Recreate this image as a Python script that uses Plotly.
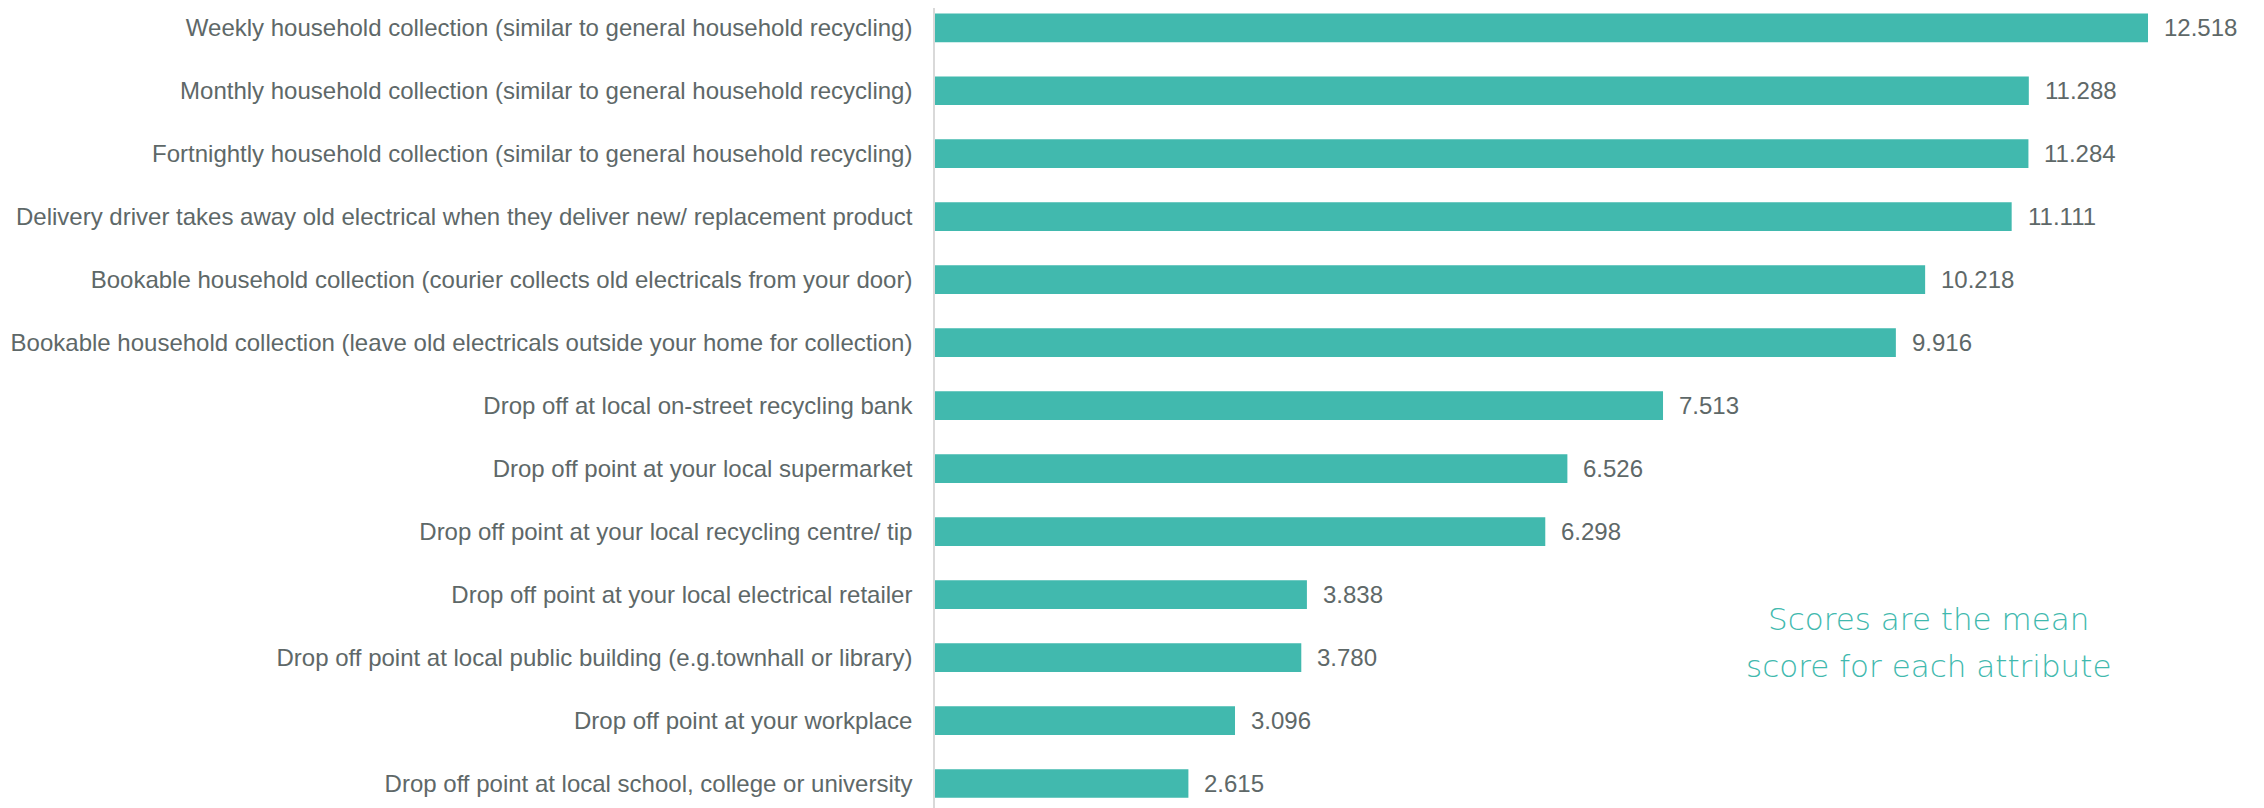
import plotly.graph_objects as go

categories = [
    "Weekly household collection (similar to general household recycling)",
    "Monthly household collection (similar to general household recycling)",
    "Fortnightly household collection (similar to general household recycling)",
    "Delivery driver takes away old electrical when they deliver new/ replacement product",
    "Bookable household collection (courier collects old electricals from your door)",
    "Bookable household collection (leave old electricals outside your home for collection)",
    "Drop off at local on-street recycling bank",
    "Drop off point at your local supermarket",
    "Drop off point at your local recycling centre/ tip",
    "Drop off point at your local electrical retailer",
    "Drop off point at local public building (e.g.townhall or library)",
    "Drop off point at your workplace",
    "Drop off point at local school, college or university",
]
scores = [12.518, 11.288, 11.284, 11.111, 10.218, 9.916, 7.513, 6.526, 6.298, 3.838, 3.780, 3.096, 2.615]
note_lines = ["Scores are the mean", "score for each attribute"]

TEAL = "#41B9AE"
GREY = "#5E6868"
LABEL_FONT = "Liberation Sans, Arial"

fig = go.Figure(go.Bar(
    x=scores, y=categories, orientation="h",
    marker=dict(color=TEAL, line=dict(width=0)),
    hoverinfo="skip",
))

for v, c in zip(scores, categories):
    fig.add_annotation(x=v, y=c, xref="x", yref="y", text=f"{v:.3f}",
                       showarrow=False, xanchor="left", xshift=14,
                       font=dict(family=LABEL_FONT, size=24, color=GREY))

for line, ypos in zip(note_lines, [0.2366, 0.1770]):
    fig.add_annotation(x=0.7472, y=ypos, xref="paper", yref="paper",
                       text=line, showarrow=False,
                       xanchor="center", yanchor="middle",
                       font=dict(family="DejaVu Sans", size=31, color=TEAL, weight=200))

n = len(categories)
fig.update_layout(
    width=2256, height=800,
    margin=dict(l=927, r=0, t=0, b=0),
    paper_bgcolor="white", plot_bgcolor="white",
    bargap=0.544,
    showlegend=False,
    xaxis=dict(range=[0, 13.715], visible=False, showgrid=False, zeroline=False),
    yaxis=dict(
        type="category", categoryorder="array", categoryarray=categories,
        range=[n - 1 + 0.389, -0.314],
        showgrid=False, zeroline=False,
        showline=True, linecolor="#D9D9D9", linewidth=1.5,
        ticks="", ticklabelstandoff=16,
        tickfont=dict(family=LABEL_FONT, size=24, color=GREY),
    ),
)

fig.write_html("out.html")
